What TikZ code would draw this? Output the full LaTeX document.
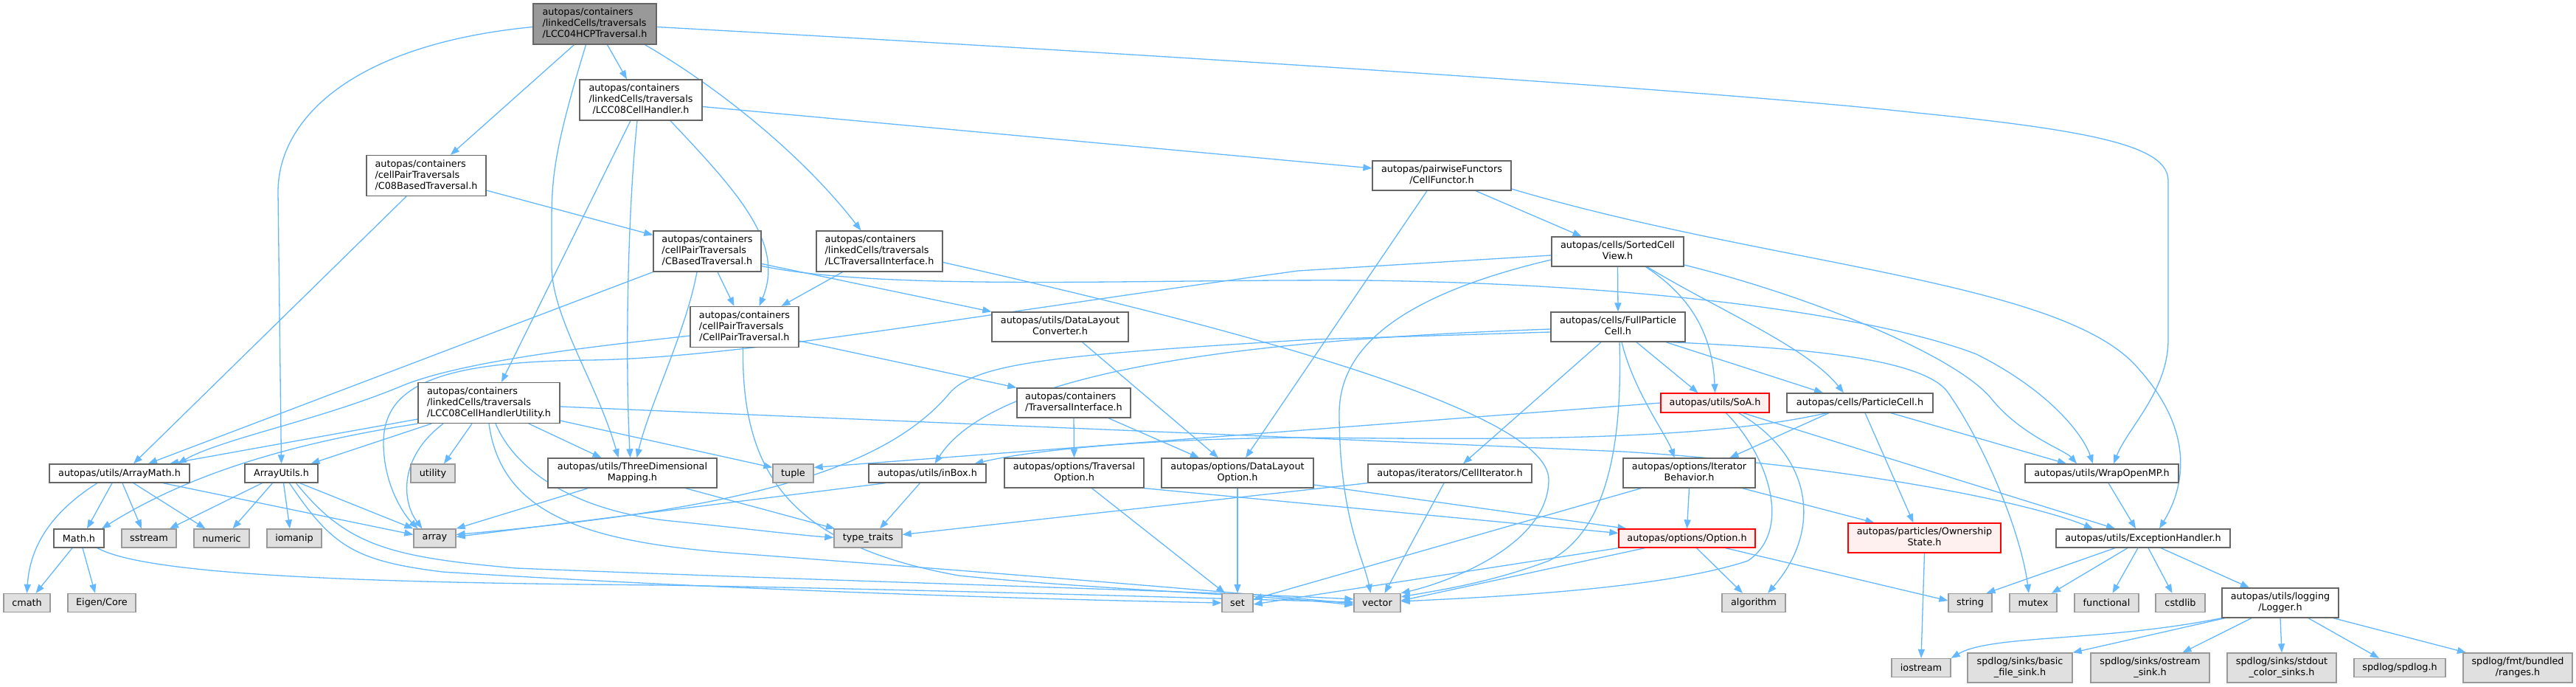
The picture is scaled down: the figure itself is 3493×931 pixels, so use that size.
\documentclass[tikz,border=0pt]{standalone}
\usepackage{fontspec}
\setmainfont{DejaVu Sans}
\usetikzlibrary{arrows.meta}
\definecolor{eblue}{HTML}{63B8FF}
\definecolor{bord}{HTML}{666666}
\definecolor{sysfill}{HTML}{E0E0E0}
\definecolor{sysbord}{HTML}{999999}
\definecolor{rootfill}{HTML}{999999}
\definecolor{redfill}{HTML}{FFF0F0}
\pgfdeclarelayer{bg}
\pgfsetlayers{bg,main}
\tikzset{
  base/.style={draw, line width=1.3pt, inner sep=0pt, align=center, font={\fontsize{12.8}{15}\selectfont}},
  nbox/.style={base, draw=bord, fill=white},
  rbox/.style={base, draw=bord, fill=rootfill},
  redbox/.style={base, draw=red, fill=redfill},
  sbox/.style={base, draw=sysbord, fill=sysfill},
  dep/.style={draw=eblue, line width=1.3pt, -{Triangle[length=12pt,width=9pt]}}
}
\newcommand{\bx}[6]{\node[#1, minimum width=#4pt, minimum height=#5pt] (#2) at (#3) {#6};}
% lines before the last flush left, last line centred (as Graphviz \l labels)
\newcommand{\lab}[2]{\begin{tabular}{@{}l@{}}#1\\\multicolumn{1}{@{}c@{}}{#2}\end{tabular}}
\begin{document}
\begin{tikzpicture}[x=1pt,y=-1pt]
\begin{pgfonlayer}{bg}
\fill[white] (0,0) rectangle (3493,931);
\end{pgfonlayer}
\useasboundingbox (0,0) rectangle (3493,931);
% nodes
\bx{rbox}{n0}{806.5,32.5}{167}{55}{\lab{autopas/containers\\/linkedCells/traversals}{/LCC04HCPTraversal.h}}
\bx{nbox}{hdl}{869,135.5}{166}{55}{\lab{autopas/containers\\/linkedCells/traversals}{/LCC08CellHandler.h}}
\bx{nbox}{c08}{578,238}{162}{55}{\lab{autopas/containers\\/cellPairTraversals}{/C08BasedTraversal.h}}
\bx{nbox}{cfun}{1955,238}{188}{40}{\lab{autopas/pairwiseFunctors}{/CellFunctor.h}}
\bx{nbox}{cbased}{959,340.5}{146}{55}{\lab{autopas/containers\\/cellPairTraversals}{/CBasedTraversal.h}}
\bx{nbox}{lcti}{1192.5,340.5}{171}{55}{\lab{autopas/containers\\/linkedCells/traversals}{/LCTraversalInterface.h}}
\bx{nbox}{scv}{2193.5,341}{179}{40}{\lab{autopas/cells/SortedCell}{View.h}}
\bx{nbox}{cpt}{1009.5,443}{147}{55}{\lab{autopas/containers\\/cellPairTraversals}{/CellPairTraversal.h}}
\bx{nbox}{dlc}{1437.5,443}{185}{40}{\lab{autopas/utils/DataLayout}{Converter.h}}
\bx{nbox}{fpc}{2194,443}{182}{40}{\lab{autopas/cells/FullParticle}{Cell.h}}
\bx{nbox}{lccu}{663,546}{192}{55}{\lab{autopas/containers\\/linkedCells/traversals}{/LCC08CellHandlerUtility.h}}
\bx{nbox}{ti}{1456,546}{154}{40}{\lab{autopas/containers}{/TraversalInterface.h}}
\bx{redbox}{soa}{2325.5,546}{147}{26}{autopas/utils/SoA.h}
\bx{nbox}{pc}{2522,546}{198}{26}{autopas/cells/ParticleCell.h}
\bx{nbox}{amath}{162,641.5}{190}{25}{autopas/utils/ArrayMath.h}
\bx{nbox}{autils}{381.5,641.5}{99}{25}{ArrayUtils.h}
\bx{sbox}{utility}{587,641.5}{60}{25}{utility}
\bx{nbox}{tdm}{857.5,641}{229}{40}{\lab{autopas/utils/ThreeDimensional}{Mapping.h}}
\bx{sbox}{tuple}{1075.5,641.5}{55}{25}{tuple}
\bx{nbox}{inbox}{1257.5,641.5}{159}{25}{autopas/utils/inBox.h}
\bx{nbox}{topt}{1456.5,641}{189}{40}{\lab{autopas/options/Traversal}{Option.h}}
\bx{nbox}{dlo}{1678,641}{206}{40}{\lab{autopas/options/DataLayout}{Option.h}}
\bx{nbox}{citer}{1966,641.5}{222}{25}{autopas/iterators/CellIterator.h}
\bx{nbox}{ib}{2290.5,641}{179}{40}{\lab{autopas/options/Iterator}{Behavior.h}}
\bx{nbox}{womp}{2850,641.5}{208}{25}{autopas/utils/WrapOpenMP.h}
\bx{nbox}{mathh}{107,729.5}{68}{25}{Math.h}
\bx{sbox}{sstream}{202,729.5}{74}{25}{sstream}
\bx{sbox}{numeric}{300.5,729.5}{75}{25}{numeric}
\bx{sbox}{iomanip}{399,729.5}{74}{25}{iomanip}
\bx{sbox}{array}{589.5,729.5}{57}{25}{array}
\bx{sbox}{typet}{1177,729.5}{92}{25}{type\_traits}
\bx{redbox}{opt}{2287.5,729.5}{185}{25}{autopas/options/Option.h}
\bx{redbox}{own}{2609.5,729}{207}{40}{\lab{autopas/particles/Ownership}{State.h}}
\bx{nbox}{exh}{2906,729.5}{236}{25}{autopas/utils/ExceptionHandler.h}
\bx{sbox}{cmath}{36.5,817}{63}{25}{cmath}
\bx{sbox}{eigen}{138,817}{92}{25}{Eigen/Core}
\bx{sbox}{set}{1678,817}{42}{25}{set}
\bx{sbox}{vector}{1867.5,817}{63}{25}{vector}
\bx{sbox}{algo}{2378,817}{86}{25}{algorithm}
\bx{sbox}{string}{2671.5,817}{59}{25}{string}
\bx{sbox}{mutex}{2757,817}{64}{25}{mutex}
\bx{sbox}{functional}{2856.5,817}{87}{25}{functional}
\bx{sbox}{cstdlib}{2956.5,817}{67}{25}{cstdlib}
\bx{nbox}{logger}{3092,817}{158}{40}{\lab{autopas/utils/logging}{/Logger.h}}
\bx{sbox}{iostream}{2605,905}{80}{25}{iostream}
\bx{sbox}{bfs}{2739,905}{142}{40}{\lab{spdlog/sinks/basic}{\_file\_sink.h}}
\bx{sbox}{oss}{2915.5,905}{161}{40}{\lab{spdlog/sinks/ostream}{\_sink.h}}
\bx{sbox}{scs}{3094,905}{148}{40}{\lab{spdlog/sinks/stdout}{\_color\_sinks.h}}
\bx{sbox}{spd}{3254,905}{124}{25}{spdlog/spdlog.h}
\bx{sbox}{rng}{3414,905}{148}{40}{\lab{spdlog/fmt/bundled}{/ranges.h}}
% edges
\begin{pgfonlayer}{bg}
% root
\draw[dep] ([xshift=-28pt]n0.south) -- ([xshift=33pt]c08.north);
\draw[dep] ([xshift=17pt]n0.south) -- ([xshift=-19pt]hdl.north);
\draw[dep] ([xshift=-12pt]n0.south) .. controls (752,200) and (748,240) .. (748,300) -- (748,360) .. controls (748,430) and (810,520) .. ([xshift=-19pt]tdm.north);
\draw[dep] ([xshift=68pt]n0.south) .. controls (960,110) and (1080,200) .. ([xshift=-25pt]lcti.north);
\draw[dep] ([yshift=-4pt]n0.west) .. controls (480,60) and (377,160) .. (377,260) -- (autils.north);
\draw[dep] ([yshift=-4pt]n0.east) .. controls (1500,70) and (2300,120) .. (2600,153) .. controls (2850,178) and (2940,200) .. (2940,245) -- (2940,460) .. controls (2940,530) and (2885,580) .. ([xshift=16pt]womp.north);
% LCC08CellHandler
\draw[dep] ([yshift=-9pt]hdl.east) -- ([yshift=10pt]cfun.west);
\draw[dep] ([xshift=40pt]hdl.south) .. controls (1000,260) and (1065,330) .. ([xshift=20pt]cpt.north);
\draw[dep] ([xshift=-14pt]hdl.south) -- ([xshift=17pt]lccu.north);
\draw[dep] ([xshift=-5pt]hdl.south) .. controls (850,300) and (848,500) .. ([xshift=-3pt]tdm.north);
% C08
\draw[dep] ([yshift=-20pt]c08.east) -- ([yshift=22pt]cbased.west);
\draw[dep] ([xshift=-27pt]c08.south) -- ([xshift=19pt]amath.north);
% CBased
\draw[dep] ([xshift=14pt]cbased.south) -- ([xshift=-14pt]cpt.north);
\draw[dep] (cbased.south west) -- ([xshift=39pt]amath.north);
\draw[dep] ([xshift=-14pt]cbased.south) .. controls (930,450) and (880,550) .. ([xshift=6pt]tdm.north);
\draw[dep] ([yshift=-17pt]cbased.east) -- (dlc.north west);
\draw[dep] ([yshift=-20pt]cbased.east) .. controls (1200,395) and (1550,378) .. (1850,380) .. controls (2250,385) and (2550,430) .. (2680,480) .. controls (2780,530) and (2825,590) .. ([xshift=-12pt]womp.north);
% LCTraversalInterface
\draw[dep] ([xshift=-50pt]lcti.south) -- ([xshift=50pt]cpt.north);
\draw[dep] ([yshift=-15pt]lcti.east) .. controls (1700,450) and (2100,560) .. (2100,650) .. controls (2100,740) and (1960,790) .. (vector.north east);
% CellFunctor
\draw[dep] ([xshift=46pt]cfun.south) -- ([xshift=-49pt]scv.north);
\draw[dep] ([xshift=-20pt]cfun.south) -- ([xshift=11pt]dlo.north);
\draw[dep] ([yshift=-18pt]cfun.east) .. controls (2400,360) and (2800,380) .. (2900,500) .. controls (2990,600) and (2950,680) .. ([xshift=22pt]exh.north);
% SortedCellView
\draw[dep] (scv.south) -- (fpc.north);
\draw[dep] ([xshift=38pt]scv.south) .. controls (2290,400) and (2322,450) .. (soa.north);
\draw[dep] ([xshift=40pt]scv.south) .. controls (2330,420) and (2450,470) .. ([xshift=-22pt]pc.north);
\draw[dep] ([yshift=-11pt]scv.west) .. controls (1900,400) and (1816,470) .. (1816,560) .. controls (1816,700) and (1850,760) .. ([xshift=-9pt]vector.north);
\draw[dep] ([yshift=-5pt]scv.west) -- (1760,367) .. controls (1300,430) and (1000,485) .. (800,488) .. controls (600,490) and (520,520) .. (520,600) .. controls (520,660) and (550,700) .. ([xshift=-23pt]array.north);
\draw[dep] ([yshift=-18pt]scv.east) .. controls (2450,400) and (2650,480) .. (2700,540) .. controls (2740,590) and (2800,610) .. ([xshift=-34pt]womp.north);
% FullParticleCell
\draw[dep] ([xshift=-23pt]fpc.south) -- ([xshift=18pt]citer.north);
\draw[dep] ([xshift=2pt]fpc.south) .. controls (2200,600) and (2180,720) .. (2100,760) .. controls (2020,790) and (1950,800) .. ([yshift=8pt]vector.east);
\draw[dep] ([xshift=5pt]fpc.south) .. controls (2215,530) and (2260,590) .. ([xshift=-20pt]ib.north);
\draw[dep] ([xshift=25pt]fpc.south) -- ([xshift=-23pt]soa.north);
\draw[dep] ([xshift=65pt]fpc.south) -- ([xshift=-50pt]pc.north);
\draw[dep] ([xshift=71pt]fpc.south) .. controls (2400,470) and (2600,480) .. (2640,530) .. controls (2690,600) and (2740,720) .. ([xshift=-6pt]mutex.north);
\draw[dep] ([yshift=-3pt]fpc.west) .. controls (1700,460) and (1350,500) .. ([xshift=10pt]inbox.north);
\draw[dep] ([yshift=-7pt]fpc.west) -- (1780,460) .. controls (1450,480) and (1330,490) .. (1290,530) .. controls (1200,640) and (1000,690) .. ([yshift=5pt]array.east);
% SoA
\draw[dep] (soa.west) -- ([yshift=8pt]tuple.east);
\draw[dep] ([xshift=15pt]soa.south) .. controls (2400,620) and (2430,720) .. (2370,760) .. controls (2250,800) and (2000,810) .. ([yshift=2pt]vector.east);
\draw[dep] ([xshift=32pt]soa.south) .. controls (2460,620) and (2470,720) .. ([xshift=19pt]algo.north);
\draw[dep] ([xshift=38pt]soa.south) -- ([xshift=-38pt]exh.north);
% ParticleCell
\draw[dep] ([xshift=-42pt]pc.south) -- ([xshift=55pt]ib.north);
\draw[dep] ([xshift=7pt]pc.south) -- ([xshift=-15pt]own.north);
\draw[dep] ([xshift=42pt]pc.south) -- ([xshift=-48pt]womp.north);
\draw[dep] ([xshift=-45pt]pc.south) .. controls (2300,600) and (2000,595) .. (1760,593) .. controls (1550,595) and (1400,610) .. ([xshift=64pt]inbox.north);
% DataLayoutConverter, TraversalInterface, CellPairTraversal
\draw[dep] ([xshift=30pt]dlc.south) -- ([xshift=-26pt]dlo.north);
\draw[dep] (ti.south) -- (topt.north);
\draw[dep] ([xshift=47pt]ti.south) -- ([xshift=-52pt]dlo.north);
\draw[dep] ([yshift=-19pt]cpt.east) -- (ti.north west);
\draw[dep] ([xshift=-2pt]cpt.south) .. controls (1005,650) and (1080,740) .. (1300,780) .. controls (1500,800) and (1700,805) .. ([yshift=-3pt]vector.west);
\draw[dep] ([yshift=-12pt]cpt.west) .. controls (800,470) and (620,490) .. (540,525) .. controls (430,570) and (300,595) .. ([xshift=79pt]amath.north);
% LCC08CellHandlerUtility
\draw[dep] ([yshift=-22pt]lccu.west) -- ([xshift=68pt]amath.north);
\draw[dep] (lccu.south west) .. controls (400,600) and (260,640) .. ([xshift=31pt]mathh.north);
\draw[dep] ([xshift=-78pt]lccu.south) -- ([xshift=40pt]autils.north);
\draw[dep] ([xshift=-23pt]lccu.south) -- ([xshift=15pt]utility.north);
\draw[dep] ([xshift=-62pt]lccu.south) .. controls (540,620) and (545,680) .. ([xshift=-17pt]array.north);
\draw[dep] ([xshift=54pt]lccu.south) -- ([xshift=-42pt]tdm.north);
\draw[dep] ([xshift=9pt]lccu.south) .. controls (700,640) and (780,690) .. (900,705) .. controls (1000,715) and (1080,725) .. ([yshift=1pt]typet.west);
\draw[dep] (lccu.south) .. controls (680,700) and (800,735) .. (1000,750) .. controls (1400,780) and (1700,805) .. ([yshift=-1pt]vector.west);
\draw[dep] ([yshift=-24pt]lccu.east) -- ([yshift=8pt]tuple.west);
\draw[dep] ([yshift=-5pt]lccu.east) .. controls (1200,570) and (1700,590) .. (2200,612) .. controls (2500,630) and (2750,680) .. ([xshift=-68pt]exh.north);
% ArrayMath
\draw[dep] ([xshift=-30pt]amath.south) .. controls (60,700) and (40,750) .. (cmath.north);
\draw[dep] ([xshift=-10pt]amath.south) -- ([xshift=11pt]mathh.north);
\draw[dep] ([xshift=4pt]amath.south) -- ([xshift=-10pt]sstream.north);
\draw[dep] ([xshift=19pt]amath.south) -- ([xshift=-22pt]numeric.north);
\draw[dep] ([xshift=59pt]amath.south) -- ([yshift=5pt]array.west);
% ArrayUtils
\draw[dep] ([xshift=-26pt]autils.south) -- ([xshift=28pt]sstream.north);
\draw[dep] ([xshift=-12pt]autils.south) -- ([xshift=15pt]numeric.north);
\draw[dep] ([xshift=3pt]autils.south) -- ([xshift=-6pt]iomanip.north);
\draw[dep] ([xshift=25pt]autils.south) -- (array.north west);
\draw[dep] ([xshift=11pt]autils.south) .. controls (450,740) and (480,760) .. (600,775) .. controls (1000,800) and (1400,812) .. (set.west);
\draw[dep] ([xshift=20pt]autils.south) .. controls (470,740) and (530,755) .. (700,770) .. controls (1200,790) and (1600,800) .. ([yshift=5pt]vector.west);
% Math.h
\draw[dep] ([xshift=-9pt]mathh.south) -- ([xshift=12pt]cmath.north);
\draw[dep] ([xshift=5pt]mathh.south) -- ([xshift=-9pt]eigen.north);
\draw[dep] ([xshift=25pt]mathh.south) .. controls (200,780) and (500,790) .. (900,793) .. controls (1300,800) and (1600,810) .. ([yshift=1pt]vector.west);
% ThreeDimensionalMapping, inBox, CellIterator
\draw[dep] ([xshift=-60pt]tdm.south) -- (array.north east);
\draw[dep] ([xshift=72pt]tdm.south) -- ([xshift=-45pt]typet.north);
\draw[dep] ([xshift=-10pt]inbox.south) -- ([xshift=16pt]typet.north);
\draw[dep] ([xshift=-57pt]inbox.south) -- ([yshift=2pt]array.east);
\draw[dep] (citer.south west) -- ([yshift=5pt]typet.east);
\draw[dep] ([xshift=-8pt]citer.south) -- ([xshift=10pt]vector.north);
% options
\draw[dep] ([xshift=24pt]topt.south) -- ([xshift=-17pt]set.north);
\draw[dep] (topt.south east) -- ([yshift=7pt]opt.west);
\draw[dep] (dlo.south) -- (set.north);
\draw[dep] ([yshift=-16pt]dlo.east) -- ([xshift=-82pt]opt.north);
\draw[dep] (ib.south) -- (opt.north);
\draw[dep] ([xshift=72pt]ib.south) -- ([xshift=-68pt]own.north);
\draw[dep] ([xshift=-65pt]ib.south) -- ([yshift=5pt]set.east);
\draw[dep] (opt.south west) -- ([yshift=-2pt]set.east);
\draw[dep] ([xshift=-57pt]opt.south) -- ([yshift=3pt]vector.east);
\draw[dep] ([xshift=13pt]opt.south) -- ([xshift=-15pt]algo.north);
\draw[dep] ([xshift=52pt]opt.south) -- ([yshift=3pt]string.west);
\draw[dep] (own.south) -- (iostream.north);
% WrapOpenMP, ExceptionHandler, Logger
\draw[dep] ([xshift=9pt]womp.south) -- ([xshift=-10pt]exh.north);
\draw[dep] ([xshift=-38pt]exh.south) -- ([xshift=22pt]string.north);
\draw[dep] ([xshift=-21pt]exh.south) -- ([xshift=25pt]mutex.north);
\draw[dep] ([xshift=-7pt]exh.south) -- ([xshift=8pt]functional.north);
\draw[dep] ([xshift=7pt]exh.south) -- ([xshift=-11pt]cstdlib.north);
\draw[dep] ([xshift=24pt]exh.south) -- ([xshift=-42pt]logger.north);
\draw[dep] (logger.south west) .. controls (2850,870) and (2700,860) .. (iostream.north east);
\draw[dep] ([xshift=-75pt]logger.south) -- (bfs.north east);
\draw[dep] ([xshift=-39pt]logger.south) -- ([xshift=44pt]oss.north);
\draw[dep] (logger.south) -- (scs.north);
\draw[dep] ([xshift=38pt]logger.south) -- ([xshift=-28pt]spd.north);
\draw[dep] ([xshift=72pt]logger.south) -- ([xshift=-70pt]rng.north);
\end{pgfonlayer}
\end{tikzpicture}
\end{document}
